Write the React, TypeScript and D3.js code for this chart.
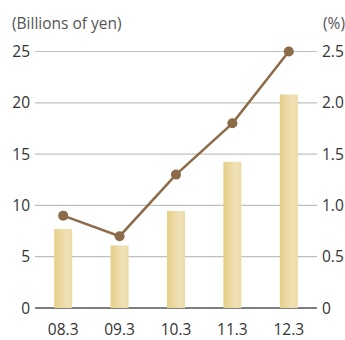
import React from "react";
import * as d3 from "d3";

const categories = ["08.3", "09.3", "10.3", "11.3", "12.3"];
const barValues = [7.7, 6.1, 9.45, 14.25, 20.8];
const lineValues = [0.9, 0.7, 1.3, 1.8, 2.5];
const leftTicks = [0, 5, 10, 15, 20, 25];
const rightTicks = [0, 0.5, 1.0, 1.5, 2.0, 2.5];
const leftTitle = "(Billions of yen)";
const rightTitle = "(%)";

const W = 345, H = 340;
const left = 35, right = 317, top = 51.5, bottom = 308;
const font = "'Open Sans', 'Noto Sans', sans-serif";
const fs = 15.5;

export default function App() {
  const x = d3.scaleBand<string>().domain(categories).range([left, right]).paddingInner(0).paddingOuter(0);
  const yL = d3.scaleLinear().domain([0, 25]).range([bottom, top]);
  const yR = d3.scaleLinear().domain([0, 2.5]).range([bottom, top]);
  const bw = 18;
  const line = d3.line<number>().x((_, i) => x(categories[i])! + x.bandwidth() / 2).y((d) => yR(d));
  return (
    <svg width={W} height={H} style={{ position: "absolute", left: 0, top: 0 }} fontFamily={font}>
      <defs>
        <linearGradient id="barG" x1="0" x2="1" y1="0" y2="0">
          <stop offset="0" stopColor="#e5cf88" />
          <stop offset="0.7" stopColor="#f1e2b6" />
          <stop offset="1" stopColor="#ecdba6" />
        </linearGradient>
      </defs>
      <text x={12} y={29} fontSize={fs} fill="#555">{leftTitle}</text>
      <text x={323} y={29} fontSize={fs} fill="#555">{rightTitle}</text>
      {leftTicks.map((t) => (
        <line key={"g" + t} x1={left} x2={right} y1={yL(t)} y2={yL(t)} stroke={t === 0 ? "#555" : "#bfbfbf"} strokeWidth={t === 0 ? 1.5 : 1.2} />
      ))}
      {barValues.map((v, i) => (
        <rect key={"b" + i} x={x(categories[i])! + x.bandwidth() / 2 - bw / 2} y={yL(v)} width={bw} height={bottom - yL(v)} fill="url(#barG)" />
      ))}
      {leftTicks.map((t) => (
        <text key={"l" + t} x={30} y={yL(t)} dy="0.36em" textAnchor="end" fontSize={fs} fill="#333">{t}</text>
      ))}
      {rightTicks.map((t) => (
        <text key={"r" + t} x={322} y={yR(t)} dy="0.36em" textAnchor="start" fontSize={fs} fill="#333">{t === 0 ? "0" : t.toFixed(1)}</text>
      ))}
      <path d={line(lineValues)!} fill="none" stroke="#8c6b48" strokeWidth={2.5} />
      {lineValues.map((v, i) => (
        <circle key={"c" + i} cx={x(categories[i])! + x.bandwidth() / 2} cy={yR(v)} r={5} fill="#8c6b48" />
      ))}
      {categories.map((c) => (
        <text key={"x" + c} x={x(c)! + x.bandwidth() / 2} y={335} textAnchor="middle" fontSize={fs} fill="#333">{c}</text>
      ))}
    </svg>
  );
}
